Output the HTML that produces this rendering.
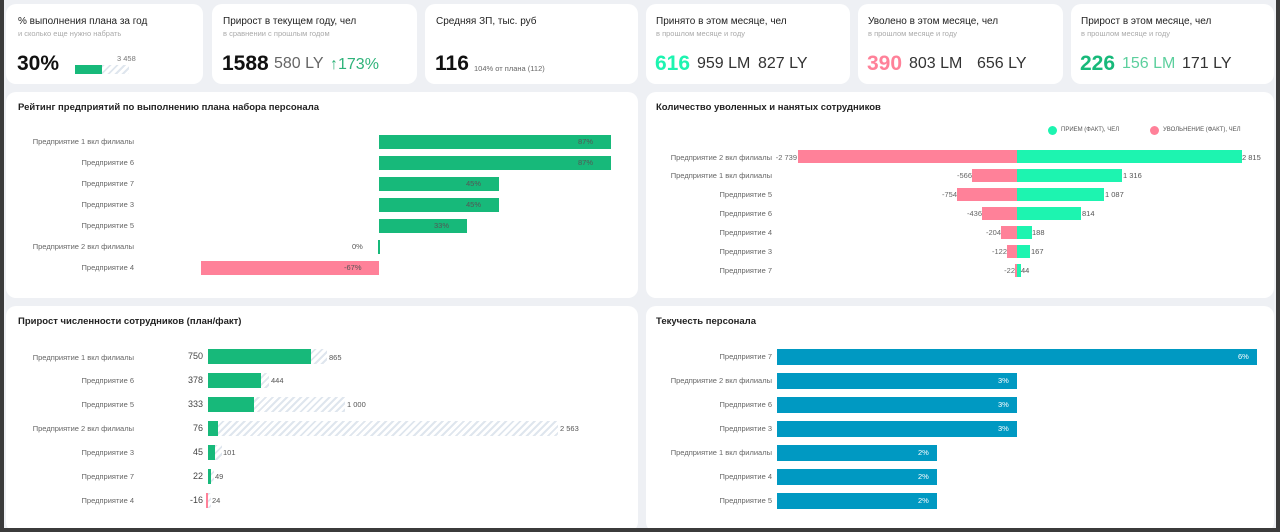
<!DOCTYPE html>
<html><head><meta charset="utf-8"><style>
*{margin:0;padding:0;box-sizing:border-box}
body{width:1280px;height:532px;background:#3b3b3b;font-family:"Liberation Sans",sans-serif;position:relative;overflow:hidden}
#bg{position:absolute;left:4px;top:0;width:1272px;height:528px;background:#eef0f4}
.c{position:absolute;background:#fff;border-radius:10px}
.t{position:absolute;font-size:10px;color:#222;white-space:nowrap}
.s{position:absolute;font-size:7.5px;color:#aaa;white-space:nowrap}
.big{position:absolute;font-size:21px;font-weight:bold;white-space:nowrap}
.mid{position:absolute;font-size:16px;color:#444;white-space:nowrap}
.l{position:absolute;font-size:7.5px;color:#666;text-align:right;white-space:nowrap}
.b{position:absolute}
.v{position:absolute;font-size:7.5px;color:#555;white-space:nowrap}
.h{position:absolute;background:repeating-linear-gradient(135deg,#dfe6ee 0 2px,#fff 2px 5px)}
.g{background:#17b97a}.p{background:#ff8199}.m{background:#1df4b0}.bl{background:#0099c2}
</style></head><body><div id="bg"></div>
<div class="c" style="left:6px;top:4px;width:197px;height:80px"></div>
<div class="c" style="left:212px;top:4px;width:205px;height:80px"></div>
<div class="c" style="left:425px;top:4px;width:213px;height:80px"></div>
<div class="c" style="left:646px;top:4px;width:204px;height:80px"></div>
<div class="c" style="left:858px;top:4px;width:205px;height:80px"></div>
<div class="c" style="left:1071px;top:4px;width:203px;height:80px"></div>
<div class="t" style="left:18px;top:16px">% выполнения плана за год</div>
<div class="s" style="left:18px;top:29px">и сколько еще нужно набрать</div>
<div class="big" style="left:17px;top:52px;color:#111">30%</div>
<div class="b g" style="left:75px;top:65px;width:27px;height:9px"></div>
<div class="h" style="left:102px;top:65px;width:27px;height:9px"></div>
<div class="v" style="left:117px;top:54px;color:#777">3 458</div>
<div class="t" style="left:223px;top:16px">Прирост в текущем году, чел</div>
<div class="s" style="left:223px;top:29px">в сравнении с прошлым годом</div>
<div class="big" style="left:222px;top:52px;color:#111">1588</div>
<div class="mid" style="left:274px;top:55px;color:#666">580 LY</div>
<div class="mid" style="left:330px;top:56px;color:#2fb37a">↑173%</div>
<div class="t" style="left:436px;top:16px">Средняя ЗП, тыс. руб</div>
<div class="big" style="left:435px;top:52px;color:#111">116</div>
<div class="s" style="left:474px;top:64px;color:#666">104% от плана (112)</div>
<div class="t" style="left:656px;top:16px">Принято в этом месяце, чел</div>
<div class="s" style="left:656px;top:29px">в прошлом месяце и году</div>
<div class="big" style="left:655px;top:52px;color:#1df4b0">616</div>
<div class="mid" style="left:697px;top:55px;color:#333">959 LM</div>
<div class="mid" style="left:758px;top:55px;color:#333">827 LY</div>
<div class="t" style="left:868px;top:16px">Уволено в этом месяце, чел</div>
<div class="s" style="left:868px;top:29px">в прошлом месяце и году</div>
<div class="big" style="left:867px;top:52px;color:#ff8199">390</div>
<div class="mid" style="left:909px;top:55px;color:#333">803 LM</div>
<div class="mid" style="left:977px;top:55px;color:#333">656 LY</div>
<div class="t" style="left:1081px;top:16px">Прирост в этом месяце, чел</div>
<div class="s" style="left:1081px;top:29px">в прошлом месяце и году</div>
<div class="big" style="left:1080px;top:52px;color:#17b97a">226</div>
<div class="mid" style="left:1122px;top:55px;color:#5ccf9d">156 LM</div>
<div class="mid" style="left:1182px;top:55px;color:#333">171 LY</div>
<div class="c" style="left:6px;top:92px;width:632px;height:206px"></div>
<div class="c" style="left:646px;top:92px;width:628px;height:206px"></div>
<div class="c" style="left:6px;top:306px;width:632px;height:226px"></div>
<div class="c" style="left:646px;top:306px;width:628px;height:226px"></div>
<div class="t" style="left:18px;top:102px;font-weight:bold;font-size:9.5px">Рейтинг предприятий по выполнению плана набора персонала</div>
<div class="t" style="left:656px;top:102px;font-weight:bold;font-size:9.5px">Количество уволенных и нанятых сотрудников</div>
<div class="t" style="left:18px;top:316px;font-weight:bold;font-size:9.5px">Прирост численности сотрудников (план/факт)</div>
<div class="t" style="left:656px;top:316px;font-weight:bold;font-size:9.5px">Текучесть персонала</div>
<div class="l" style="right:1146px;top:137px">Предприятие 1 вкл филиалы</div>
<div class="l" style="right:1146px;top:158px">Предприятие 6</div>
<div class="l" style="right:1146px;top:179px">Предприятие 7</div>
<div class="l" style="right:1146px;top:200px">Предприятие 3</div>
<div class="l" style="right:1146px;top:221px">Предприятие 5</div>
<div class="l" style="right:1146px;top:242px">Предприятие 2 вкл филиалы</div>
<div class="l" style="right:1146px;top:263px">Предприятие 4</div>
<div class="b g" style="left:379px;top:135px;width:232px;height:14px"></div><div class="v" style="left:578px;top:137px">87%</div>
<div class="b g" style="left:379px;top:156px;width:232px;height:14px"></div><div class="v" style="left:578px;top:158px">87%</div>
<div class="b g" style="left:379px;top:177px;width:120px;height:14px"></div><div class="v" style="left:466px;top:179px">45%</div>
<div class="b g" style="left:379px;top:198px;width:120px;height:14px"></div><div class="v" style="left:466px;top:200px">45%</div>
<div class="b g" style="left:379px;top:219px;width:88px;height:14px"></div><div class="v" style="left:434px;top:221px">33%</div>
<div class="b g" style="left:378px;top:240px;width:2px;height:14px"></div><div class="v" style="left:352px;top:242px">0%</div>
<div class="b p" style="left:201px;top:261px;width:178px;height:14px"></div><div class="v" style="left:344px;top:263px">-67%</div>
<div class="b m" style="left:1048px;top:126px;width:9px;height:9px;border-radius:50%"></div><div class="v" style="left:1061px;top:127px;font-size:6px">ПРИЕМ (ФАКТ), ЧЕЛ</div>
<div class="b p" style="left:1150px;top:126px;width:9px;height:9px;border-radius:50%"></div><div class="v" style="left:1163px;top:127px;font-size:6px">УВОЛЬНЕНИЕ (ФАКТ), ЧЕЛ</div>
<div class="l" style="right:508px;top:153px">Предприятие 2 вкл филиалы</div>
<div class="l" style="right:508px;top:171px">Предприятие 1 вкл филиалы</div>
<div class="l" style="right:508px;top:190px">Предприятие 5</div>
<div class="l" style="right:508px;top:209px">Предприятие 6</div>
<div class="l" style="right:508px;top:228px">Предприятие 4</div>
<div class="l" style="right:508px;top:247px">Предприятие 3</div>
<div class="l" style="right:508px;top:266px">Предприятие 7</div>
<div class="b p" style="left:798px;top:150px;width:219px;height:13px"></div><div class="b m" style="left:1017px;top:150px;width:225px;height:13px"></div>
<div class="l" style="right:483px;top:153px">-2 739</div><div class="v" style="left:1242px;top:153px">2 815</div>
<div class="b p" style="left:972px;top:169px;width:45px;height:13px"></div><div class="b m" style="left:1017px;top:169px;width:105px;height:13px"></div>
<div class="l" style="right:308px;top:171px">-566</div><div class="v" style="left:1123px;top:171px">1 316</div>
<div class="b p" style="left:957px;top:188px;width:60px;height:13px"></div><div class="b m" style="left:1017px;top:188px;width:87px;height:13px"></div>
<div class="l" style="right:323px;top:190px">-754</div><div class="v" style="left:1105px;top:190px">1 087</div>
<div class="b p" style="left:982px;top:207px;width:35px;height:13px"></div><div class="b m" style="left:1017px;top:207px;width:64px;height:13px"></div>
<div class="l" style="right:298px;top:209px">-436</div><div class="v" style="left:1082px;top:209px">814</div>
<div class="b p" style="left:1001px;top:226px;width:16px;height:13px"></div><div class="b m" style="left:1017px;top:226px;width:15px;height:13px"></div>
<div class="l" style="right:279px;top:228px">-204</div><div class="v" style="left:1032px;top:228px">188</div>
<div class="b p" style="left:1007px;top:245px;width:10px;height:13px"></div><div class="b m" style="left:1017px;top:245px;width:13px;height:13px"></div>
<div class="l" style="right:273px;top:247px">-122</div><div class="v" style="left:1031px;top:247px">167</div>
<div class="b p" style="left:1015px;top:264px;width:2px;height:13px"></div><div class="b m" style="left:1017px;top:264px;width:4px;height:13px"></div>
<div class="l" style="right:265px;top:266px">-22</div><div class="v" style="left:1021px;top:266px">44</div>
<div class="l" style="right:1146px;top:353px">Предприятие 1 вкл филиалы</div>
<div class="l" style="right:1146px;top:376px">Предприятие 6</div>
<div class="l" style="right:1146px;top:400px">Предприятие 5</div>
<div class="l" style="right:1146px;top:424px">Предприятие 2 вкл филиалы</div>
<div class="l" style="right:1146px;top:448px">Предприятие 3</div>
<div class="l" style="right:1146px;top:472px">Предприятие 7</div>
<div class="l" style="right:1146px;top:496px">Предприятие 4</div>
<div class="h" style="left:208px;top:349px;width:119px;height:15px"></div><div class="b g" style="left:208px;top:349px;width:103px;height:15px"></div>
<div class="l" style="right:1077px;top:351px;font-size:9px;color:#444">750</div><div class="v" style="left:329px;top:353px">865</div>
<div class="h" style="left:208px;top:373px;width:61px;height:15px"></div><div class="b g" style="left:208px;top:373px;width:53px;height:15px"></div>
<div class="l" style="right:1077px;top:375px;font-size:9px;color:#444">378</div><div class="v" style="left:271px;top:376px">444</div>
<div class="h" style="left:208px;top:397px;width:137px;height:15px"></div><div class="b g" style="left:208px;top:397px;width:46px;height:15px"></div>
<div class="l" style="right:1077px;top:399px;font-size:9px;color:#444">333</div><div class="v" style="left:347px;top:400px">1 000</div>
<div class="h" style="left:208px;top:421px;width:350px;height:15px"></div><div class="b g" style="left:208px;top:421px;width:10px;height:15px"></div>
<div class="l" style="right:1077px;top:423px;font-size:9px;color:#444">76</div><div class="v" style="left:560px;top:424px">2 563</div>
<div class="h" style="left:208px;top:445px;width:14px;height:15px"></div><div class="b g" style="left:208px;top:445px;width:7px;height:15px"></div>
<div class="l" style="right:1077px;top:447px;font-size:9px;color:#444">45</div><div class="v" style="left:223px;top:448px">101</div>
<div class="h" style="left:208px;top:469px;width:6px;height:15px"></div><div class="b g" style="left:208px;top:469px;width:3px;height:15px"></div>
<div class="l" style="right:1077px;top:471px;font-size:9px;color:#444">22</div><div class="v" style="left:215px;top:472px">49</div>
<div class="h" style="left:208px;top:493px;width:3px;height:15px"></div><div class="b p" style="left:206px;top:493px;width:2px;height:15px"></div>
<div class="l" style="right:1077px;top:495px;font-size:9px;color:#444">-16</div><div class="v" style="left:212px;top:496px">24</div>
<div class="l" style="right:508px;top:352px">Предприятие 7</div>
<div class="l" style="right:508px;top:376px">Предприятие 2 вкл филиалы</div>
<div class="l" style="right:508px;top:400px">Предприятие 6</div>
<div class="l" style="right:508px;top:424px">Предприятие 3</div>
<div class="l" style="right:508px;top:448px">Предприятие 1 вкл филиалы</div>
<div class="l" style="right:508px;top:472px">Предприятие 4</div>
<div class="l" style="right:508px;top:496px">Предприятие 5</div>
<div class="b bl" style="left:777px;top:349px;width:480px;height:16px"></div><div class="v" style="left:1238px;top:352px;color:#fff">6%</div>
<div class="b bl" style="left:777px;top:373px;width:240px;height:16px"></div><div class="v" style="left:998px;top:376px;color:#fff">3%</div>
<div class="b bl" style="left:777px;top:397px;width:240px;height:16px"></div><div class="v" style="left:998px;top:400px;color:#fff">3%</div>
<div class="b bl" style="left:777px;top:421px;width:240px;height:16px"></div><div class="v" style="left:998px;top:424px;color:#fff">3%</div>
<div class="b bl" style="left:777px;top:445px;width:160px;height:16px"></div><div class="v" style="left:918px;top:448px;color:#fff">2%</div>
<div class="b bl" style="left:777px;top:469px;width:160px;height:16px"></div><div class="v" style="left:918px;top:472px;color:#fff">2%</div>
<div class="b bl" style="left:777px;top:493px;width:160px;height:16px"></div><div class="v" style="left:918px;top:496px;color:#fff">2%</div>
<div style="position:absolute;left:0;top:528px;width:1280px;height:4px;background:#3b3b3b"></div>
</body></html>
